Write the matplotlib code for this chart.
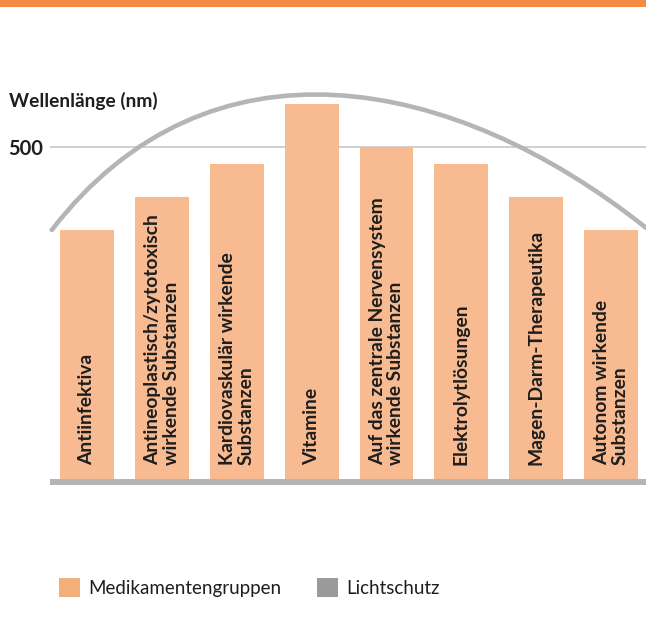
import matplotlib
matplotlib.use("Agg")
import matplotlib.pyplot as plt
from matplotlib.patches import Patch, Rectangle, PathPatch
from matplotlib.path import Path

# ---- data ----
categories = [
    "Antiinfektiva",
    "Antineoplastisch/zytotoxisch\nwirkende Substanzen",
    "Kardiovaskulär wirkende\nSubstanzen",
    "Vitamine",
    "Auf das zentrale Nervensystem\nwirkende Substanzen",
    "Elektrolytlösungen",
    "Magen-Darm-Therapeutika",
    "Autonom wirkende\nSubstanzen",
]
values = [375, 425, 475, 565, 500, 475, 425, 375]
y_ticks = [500]
y_tick_labels = ["500"]
# Lichtschutz curve: cubic Bezier control points (x in category units, y in nm)
lichtschutz_x = [-0.47, 1.62, 4.89, 7.47]
lichtschutz_y = [375, 681, 610, 378]
y_label = "Wellenlänge (nm)"
legend_labels = ["Medikamentengruppen", "Lichtschutz"]

# ---- style ----
BAR = "#F8BB91"
LEG_ORANGE = "#F2AF7A"
ARC = "#B5B5B5"
BASE = "#B3B5B3"
GRID = "#C8C8C8"
TXT = "#1E1E1E"
TOP = "#F58A42"
FONT = ["Lato", "DejaVu Sans"]

plt.rcParams["font.family"] = FONT

W, H = 646, 619
fig = plt.figure(figsize=(W / 100, H / 100), dpi=100)
ax = fig.add_axes([50 / W, (H - 492.28) / H, 596 / W, 405.04 / H])

x = list(range(len(categories)))
ax.bar(x, values, width=0.72, color=BAR, zorder=2)
ax.set_xlim(-0.4943, 7.467)
ax.set_ylim(-20, 590)

# grid & ticks
ax.set_yticks(y_ticks)
ax.set_yticklabels(y_tick_labels, fontsize=14.5, fontweight="bold", color=TXT)
ax.tick_params(axis="y", length=0, pad=5)
ax.set_xticks([])
ax.yaxis.grid(True, color=GRID, linewidth=1.2, zorder=1)
for s in ax.spines.values():
    s.set_visible(False)

# baseline
ax.axhline(-4.5, color=BASE, linewidth=4.3, zorder=3)

# bar labels
for xi, lab in zip(x, categories):
    ax.text(xi, 21, lab, rotation=90, ha="center", va="bottom",
            multialignment="left", fontsize=13.9, fontweight="bold",
            color=TXT, linespacing=1.12, zorder=4)

# Lichtschutz arc
verts = list(zip(lichtschutz_x, lichtschutz_y))
path = Path(verts, [Path.MOVETO, Path.CURVE4, Path.CURVE4, Path.CURVE4])
ax.add_patch(PathPatch(path, facecolor="none", edgecolor=ARC, linewidth=3.3,
                       capstyle="round", clip_on=False, zorder=5))

# y label
fig.text(9 / W, 1 - 107 / H, y_label, fontsize=13.8, fontweight="bold",
         color=TXT, ha="left", va="baseline")

# top band
fig.add_artist(Rectangle((0, 1 - 7 / H), 1, 7 / H, transform=fig.transFigure,
                         facecolor=TOP, edgecolor="none"))

# legend
handles = [Patch(facecolor=LEG_ORANGE, edgecolor="none"),
           Patch(facecolor="#9A9A9A", edgecolor="none")]
fs = 13.5
fpx = fs * 100 / 72
fig.legend(handles, legend_labels, loc="center left",
           bbox_to_anchor=(59 / W, 1 - 587.5 / H), ncol=2, frameon=False,
           fontsize=fs, handlelength=21 / fpx, handleheight=21 / fpx,
           handletextpad=8 / fpx, columnspacing=36 / fpx, borderpad=0,
           borderaxespad=0, labelcolor=TXT)

fig.savefig("out.png", dpi=100)
